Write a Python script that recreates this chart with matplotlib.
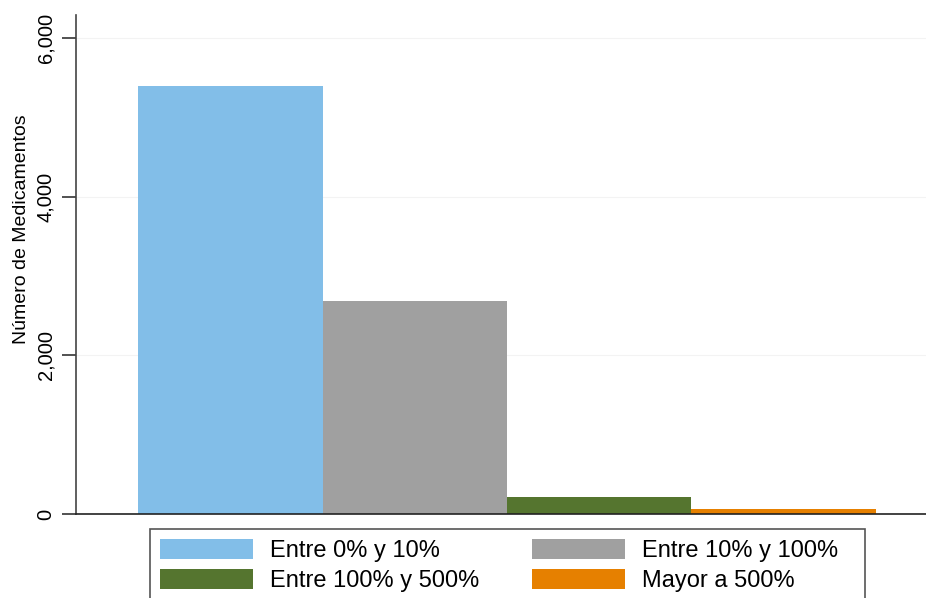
import matplotlib.pyplot as plt
from matplotlib.patches import Patch, Rectangle
from matplotlib.ticker import FuncFormatter

plt.rcParams['font.family'] = ['Liberation Sans', 'DejaVu Sans']

# datos
categorias = ['Entre 0% y 10%', 'Entre 10% y 100%', 'Entre 100% y 500%', 'Mayor a 500%']
valores = [5395, 2685, 210, 60]
colores = ['#82BEE8', '#A0A0A0', '#55752F', '#E68000']
yticks = [0, 2000, 4000, 6000]

fig = plt.figure(figsize=(9.26, 5.98), dpi=100)
ax = fig.add_axes([76/926, 1-514/598, 1-76/926, (514-15)/598])

pos = [1, 2, 3, 4]
ax.bar(pos, valores, width=1.0, color=colores, linewidth=0)

ax.set_xlim(0.163, 4.772)
ax.set_ylim(0, 6290)
ax.set_xticks([])
ax.set_yticks(yticks)
ax.yaxis.set_major_formatter(FuncFormatter(lambda v, p: f'{int(v):,}'))
ax.tick_params(axis='y', length=10, width=1.2, labelsize=14.5, pad=5, color='#333333')
for t in ax.get_yticklabels():
    t.set_rotation(90)
    t.set_va('center')
ax.grid(axis='y', color='#f3f3f3', linewidth=0.8)
ax.set_axisbelow(True)

for s in ['top', 'right']:
    ax.spines[s].set_visible(False)
ax.spines['left'].set_color('#444444')
ax.spines['left'].set_linewidth(1.2)
ax.spines['bottom'].set_color('#222222')
ax.spines['bottom'].set_linewidth(1.2)

ax.set_ylabel('Número de Medicamentos', fontsize=14)
ax.yaxis.set_label_coords(-0.054, 0.57)

handles = [Patch(facecolor=c, edgecolor='none', label=l) for c, l in zip(colores, categorias)]
orden = [0, 2, 1, 3]
leg = fig.legend([handles[i] for i in orden], [categorias[i] for i in orden],
                 loc='upper left', bbox_to_anchor=(150/926, 1-529/598),
                 ncol=2, fontsize=17, frameon=False,
                 handlelength=3.94, handleheight=0.93, handletextpad=0.72,
                 labelspacing=0.3, borderpad=0.42, columnspacing=2.25, borderaxespad=0)

# marco de la leyenda (se sale por abajo como en el original)
fig.patches.append(Rectangle((150/926, -0.05), 715/926, 1-529/598+0.05,
                             transform=fig.transFigure, fill=False,
                             edgecolor='#555555', linewidth=1.2))

fig.savefig('out.png', dpi=100)
